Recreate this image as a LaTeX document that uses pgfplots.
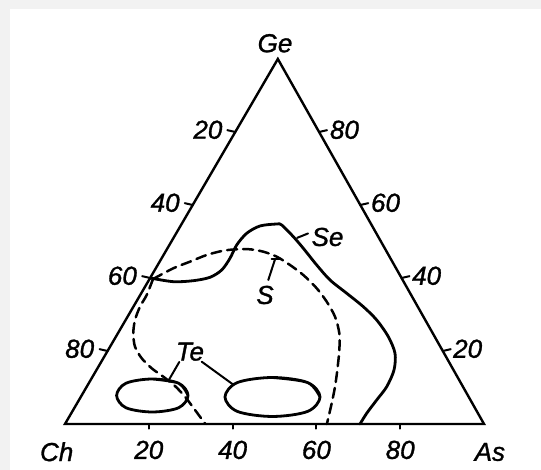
\documentclass[border=0pt]{standalone}
\usepackage{fontspec}
\setmainfont{Liberation Sans}[ItalicFeatures={FakeBold=1.2}]
\usepackage{pgfplots}
\pgfplotsset{compat=1.18}
\tikzset{lbl/.style={font=\fontsize{26}{30}\selectfont\itshape, inner sep=0pt}}
\begin{document}
\begin{tikzpicture}
% page background with a light frame at the top and left
\fill[black!5] (0,0) rectangle (541pt,470pt);
\fill[white] (10pt,0) rectangle (541pt,461pt);
\begin{axis}[
  scale only axis, width=541pt, height=470pt,
  xmin=-15.51, xmax=113.60, ymin=-12.60, ymax=116.16,
  hide axis, clip=false,
  every axis plot/.append style={black, line cap=round, line join=round, mark=none},
]
% composition triangle Ch--As--Ge (Cartesian: x = As + Ge/2, y = Ge)
\addplot[line width=2.4pt, line join=miter] coordinates {(0,0) (100,0) (50.8,100) (0,0) (100,0)};

% ticks on the Ch--As edge
\addplot[line width=2pt] coordinates {(20,0) (20,-1.3)};
\addplot[line width=2pt] coordinates {(40,0) (40,-1.3)};
\addplot[line width=2pt] coordinates {(60,0) (60,-1.3)};
\addplot[line width=2pt] coordinates {(80,0) (80,-1.3)};
% ticks on the Ge--Ch edge
\addplot[line width=2pt] coordinates {(38.74,80.5) (40.64,80)};
\addplot[line width=2pt] coordinates {(28.58,60.5) (30.48,60)};
\addplot[line width=2pt] coordinates {(18.42,40.5) (20.32,40)};
\addplot[line width=2pt] coordinates {(8.26,20.5) (10.16,20)};
% ticks on the As--Ge edge
\addplot[line width=2pt] coordinates {(60.64,80) (62.54,80.5)};
\addplot[line width=2pt] coordinates {(70.48,60) (72.38,60.5)};
\addplot[line width=2pt] coordinates {(80.32,40) (82.22,40.5)};
\addplot[line width=2pt] coordinates {(90.16,20) (92.06,20.5)};

% glass-forming region, Se
\addplot[line width=2.8pt, smooth, tension=0.5] coordinates {
 (20.3,40) (25.85,38.99) (30.62,39.26) (34.61,40.19) (37.40,42.19) (39.38,45.40)
 (40.98,49.04) (43.37,52.25) (46.54,54.25) (50.53,54.79) (51.72,54.52) (54.49,51.32)
 (56.87,48.14) (60.07,43.56) (63.25,39.45) (67.23,35.81) (71.19,32.14) (74.39,28.49)
 (77.16,23.92) (78.76,19.37) (78.52,14.79) (76.78,10.22) (74.39,6.58) (72.0,2.93) (70.41,0)};

% glass-forming region, S (dashed)
\addplot[line width=2.5pt, smooth, tension=0.5, dash pattern=on 10pt off 6pt] coordinates {
 (21.0,39.7) (25.85,42.66) (29.83,44.47) (33.82,46.30) (37.78,47.48) (40.98,47.86)
 (44.15,47.86) (47.33,47.21) (50.53,45.84) (53.70,43.56) (56.87,40.82) (60.07,37.18)
 (62.46,33.51) (64.44,29.40) (65.47,24.85) (65.47,20.27) (64.99,14.79) (64.44,10.22)
 (63.65,5.67) (62.5,0)};
\addplot[line width=2.5pt, smooth, tension=0.5, dash pattern=on 10pt off 6pt] coordinates {
 (21.0,39.7) (19.50,35.34) (17.90,32.14) (16.71,28.49) (16.30,24.85) (16.71,21.18)
 (18.31,18.0) (20.69,15.26) (23.46,12.96) (26.25,10.41) (28.64,7.48) (31.03,3.84) (33.5,0)};

% glass-forming regions, Te
\addplot[line width=2.8pt, smooth, tension=0.55] coordinates {
 (29.36,7.81) (27.14,11.16) (20.84,12.33) (14.54,11.16) (12.32,7.81) (14.54,4.46)
 (20.84,3.29) (27.14,4.46) (29.36,7.81) (27.14,11.16) (20.84,12.33)};
\addplot[line width=2.8pt, smooth, tension=0.55] coordinates {
 (60.86,7.40) (57.91,11.35) (49.52,12.74) (41.13,11.35) (38.18,7.40) (41.13,3.45)
 (49.52,2.06) (57.91,3.45) (60.86,7.40) (57.91,11.35) (49.52,12.74)};

% leaders to the region labels
\addplot[line width=2pt] coordinates {(55.4,51.0) (58.0,52.2)};
\addplot[line width=2pt] coordinates {(48.52,39.45) (50.12,45.12)};
\addplot[line width=2pt] coordinates {(49.33,45.12) (51.31,45.12)};
\addplot[line width=2pt] coordinates {(27.28,16.99) (24.65,11.8)};
\addplot[line width=2pt] coordinates {(32.63,17.07) (39.9,11.0)};

% corner labels
\node[lbl] at (axis cs:50.12,104.3) {Ge};
\node[lbl] at (axis cs:-1.98,-7.6) {Ch};
\node[lbl] at (axis cs:101.4,-7.67) {As};
% tick labels
\node[lbl] at (axis cs:20,-7.1) {20};
\node[lbl] at (axis cs:40,-7.1) {40};
\node[lbl] at (axis cs:60,-7.1) {60};
\node[lbl] at (axis cs:80,-7.1) {80};
\node[lbl, anchor=east] at (axis cs:37.6,80.6) {20};
\node[lbl, anchor=east] at (axis cs:27.4,60.6) {40};
\node[lbl, anchor=east] at (axis cs:17.2,40.6) {60};
\node[lbl, anchor=east] at (axis cs:7.0,20.6) {80};
\node[lbl, anchor=west] at (axis cs:63.2,80.6) {80};
\node[lbl, anchor=west] at (axis cs:73.0,60.6) {60};
\node[lbl, anchor=west] at (axis cs:82.8,40.6) {40};
\node[lbl, anchor=west] at (axis cs:92.6,20.6) {20};
% region labels
\node[lbl] at (axis cs:62.65,51.23) {Se};
\node[lbl] at (axis cs:47.73,35.34) {S};
\node[lbl] at (axis cs:29.83,19.8) {Te};
\end{axis}
\end{tikzpicture}
\end{document}
